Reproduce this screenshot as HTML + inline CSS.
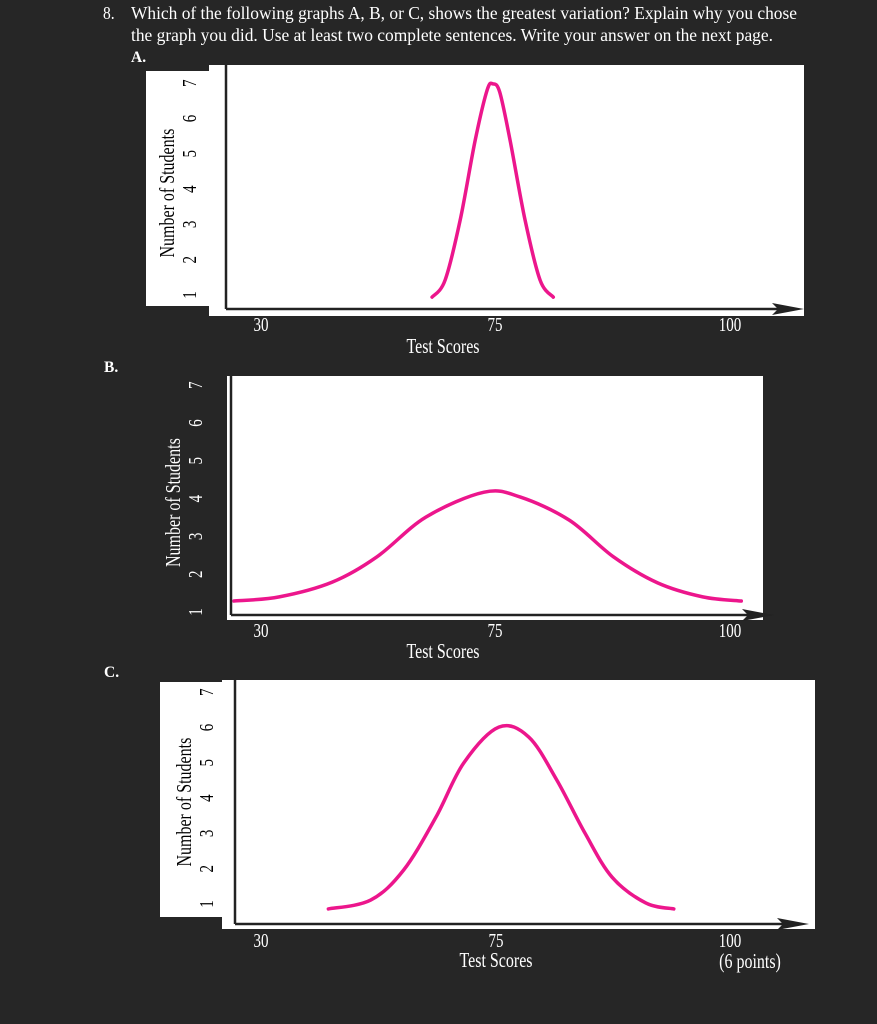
<!DOCTYPE html>
<html><head><meta charset="utf-8"><style>
html,body{margin:0;padding:0;background:#262626;}
svg{display:block;font-family:"Liberation Serif",serif;}
</style></head><body>
<svg id="svg" width="877" height="1024" viewBox="0 0 877 1024" xmlns="http://www.w3.org/2000/svg">
<rect width="877" height="1024" fill="#262626"/>
<g fill="#fff" font-size="15.5">
<text x="103" y="19" transform="translate(0 19) scale(1 1.15) translate(0 -19)">8.</text>
<text x="131" y="19" textLength="666" lengthAdjust="spacingAndGlyphs" transform="translate(0 19) scale(1 1.15) translate(0 -19)">Which of the following graphs A, B, or C, shows the greatest variation? Explain why you chose</text>
<text x="131" y="41" textLength="642" lengthAdjust="spacingAndGlyphs" transform="translate(0 41) scale(1 1.15) translate(0 -41)">the graph you did. Use at least two complete sentences. Write your answer on the next page.</text>
<text x="131" y="62" font-weight="bold">A.</text>
<text x="104" y="372" font-weight="bold">B.</text>
<text x="104" y="677" font-weight="bold">C.</text>
</g>
<g id="charts"></g>
</svg>
<script>
const yTicks = [1,2,3,4,5,6,7];
const xTickLabels = ["30","75","100"];
const xTickValues = [30,75,100];
const aScores = [62.9,65.4,68.3,71.2,73.5,74.6,75.5,76.6,78.2,79.8,81.2];
const aCounts = [0.94,1.42,3.12,5.39,6.81,6.98,6.75,5.39,3.12,1.42,0.94];
const bScores = [24.8,33.5,43.7,52.3,61.7,72.9,77.7,82.9,87.6,92.3,97.1,101.2];
const bCounts = [1.29,1.40,1.79,2.46,3.51,4.17,4.04,3.43,2.46,1.77,1.40,1.29];
const cScores = [42.9,51.0,57.3,63.5,68.8,75.3,78.5,81.5,84.5,87.4,91.0,94.0];
const cCounts = [0.86,1.11,1.96,3.46,4.99,6.01,5.73,4.51,3.01,1.76,1.03,0.86];

const NS="http://www.w3.org/2000/svg";
const root=document.getElementById('charts');
function mk(tag,attrs,parent,txt){const e=document.createElementNS(NS,tag);for(const k in attrs)e.setAttribute(k,attrs[k]);if(txt!==undefined)e.textContent=txt;(parent||root).appendChild(e);return e;}

const charts=[
 {id:'a',scores:aScores,counts:aCounts,labelPanel:[146,71,63,235],panel:[209,65,595,251],axX:226,axY:309,axTop:65,axEnd:790,
  y1:295,yStep:35.3,x30:261,x75:495,x100:730,tickX:190,titleX:168,labelColor:'#000',tickY:331,titleY:353,titleCx:443},
 {id:'b',scores:bScores,counts:bCounts,labelPanel:null,panel:[227,376,536,244],axX:231,axY:615,axTop:376,axEnd:760,
  y1:612,yStep:37.8,x30:261,x75:495,x100:730,tickX:196,titleX:174,labelColor:'#fff',tickY:637,titleY:658,titleCx:443},
 {id:'c',scores:cScores,counts:cCounts,labelPanel:[160,682,62,235],panel:[222,680,593,249],axX:235,axY:924,axTop:680,axEnd:795,
  y1:904,yStep:35.3,x30:261,x75:496,x100:730,tickX:207,titleX:185,labelColor:'#000',tickY:947,titleY:967,titleCx:496}
];
const stretch=(x,y)=>`translate(${x} ${y}) scale(1 1.3) translate(${-x} ${-y})`;
const rotStretch=(x,y)=>`translate(${x} ${y}) rotate(-90) scale(1 1.3) translate(${-x} ${-y})`;

charts.forEach(c=>{
 const g=mk('g',{});
 
 
 const xs=v=> v<=75 ? c.x30+(v-30)*(c.x75-c.x30)/45 : c.x75+(v-75)*(c.x100-c.x75)/25;
 const ys=v=> c.y1-(v-1)*c.yStep;
 if(c.labelPanel){const r=mk('rect',{x:c.labelPanel[0],y:c.labelPanel[1],width:c.labelPanel[2],height:c.labelPanel[3],fill:'#fff'},g);
  
  }
 const p=mk('rect',{x:c.panel[0],y:c.panel[1],width:c.panel[2],height:c.panel[3],fill:'#fff'},g);
 
 
 const pts=c.scores.map((s,i)=>[xs(s),ys(c.counts[i])]);
 let d='M'+pts[0][0]+','+pts[0][1];
 for(let i=0;i<pts.length-1;i++){const p0=pts[Math.max(0,i-1)],p1=pts[i],p2=pts[i+1],p3=pts[Math.min(pts.length-1,i+2)];
  d+=' C'+(p1[0]+(p2[0]-p0[0])/6)+','+(p1[1]+(p2[1]-p0[1])/6)+' '+(p2[0]-(p3[0]-p1[0])/6)+','+(p2[1]-(p3[1]-p1[1])/6)+' '+p2[0]+','+p2[1];}
 const cv=mk('path',{d:d,fill:'none',stroke:'#ec168c','stroke-width':3.5,'stroke-linecap':'round'},g);
 
 
 const ya=mk('line',{x1:c.axX,y1:c.axTop,x2:c.axX,y2:c.axY,stroke:'#222','stroke-width':2.5},g);
 
 
 const xa=mk('line',{x1:c.axX,y1:c.axY,x2:c.axEnd-8,y2:c.axY,stroke:'#222','stroke-width':2.5},g);
 
 
 const ar=mk('path',{d:`M${c.axEnd-18},${c.axY-6} L${c.axEnd+14},${c.axY} L${c.axEnd-18},${c.axY+6} L${c.axEnd-12},${c.axY} Z`,fill:'#222'},g);
 
 
 yTicks.forEach(t=>{const y=ys(t);
  const tx=mk('text',{x:c.tickX,y:y,fill:c.labelColor,'font-size':15,'text-anchor':'middle',transform:rotStretch(c.tickX,y),'dominant-baseline':'central'},g,String(t));
  
  });
 const ymid=(ys(1)+ys(7))/2+4;
 const yt=mk('text',{x:c.titleX,y:ymid,fill:c.labelColor,'font-size':16,'text-anchor':'middle',transform:rotStretch(c.titleX,ymid),'dominant-baseline':'central'},g,'Number of Students');
 
 
 xTickValues.forEach((v,i)=>{const tx=mk('text',{x:xs(v),y:c.tickY,fill:'#fff','font-size':15,'text-anchor':'middle',transform:stretch(xs(v),c.tickY)},g,xTickLabels[i]);
  
  });
 const xt=mk('text',{x:c.titleCx,y:c.titleY,fill:'#fff','font-size':16,'text-anchor':'middle',transform:stretch(c.titleCx,c.titleY)},g,'Test Scores');
 
 
});
const pts6=mk('text',{x:750,y:968,fill:'#fff','font-size':16,'text-anchor':'middle',transform:stretch(750,968)},root,'(6 points)');


</script>
</body></html>
